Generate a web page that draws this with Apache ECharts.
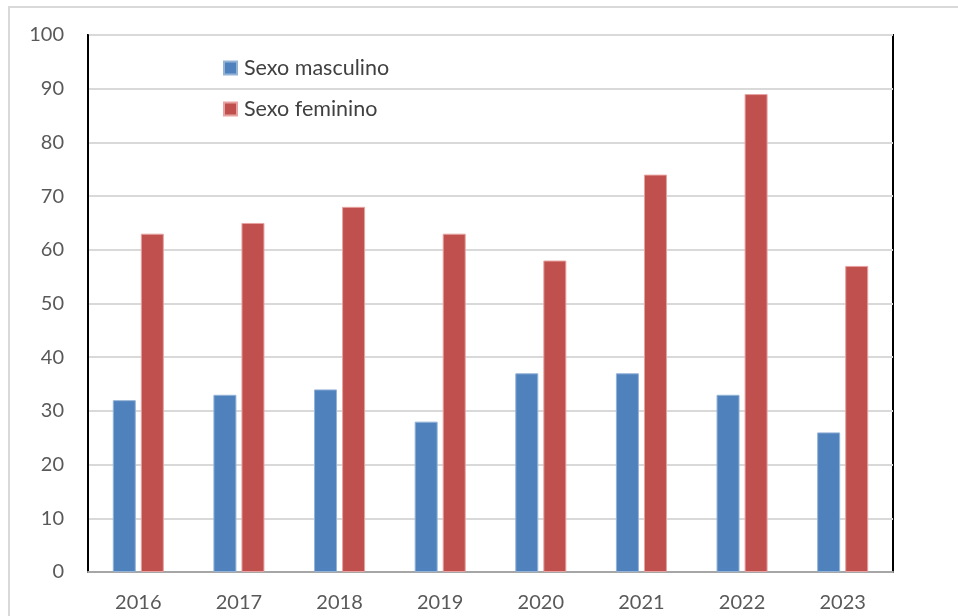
<!DOCTYPE html>
<html><head><meta charset="utf-8">
<script src="https://cdn.jsdelivr.net/npm/echarts@6/dist/echarts.min.js"></script>
<style>html,body{margin:0;padding:0;background:#fff}#c{width:958px;height:616px}</style>
</head><body><div id="c"></div>
<script>
const categories = ['2016','2017','2018','2019','2020','2021','2022','2023'];
const masculino = [32, 33, 34, 28, 37, 37, 33, 26];
const feminino = [63, 65, 68, 63, 58, 74, 89, 57];
const yTicks = [0,10,20,30,40,50,60,70,80,90,100];

const chart = echarts.init(document.getElementById('c'));
const font = 'Lato, "Open Sans", sans-serif';
chart.setOption({
  animation: false,
  textStyle: {fontFamily: font},
  graphic: [{type:'rect', shape:{x:9,y:7,width:1100,height:1100}, style:{fill:'none', stroke:'#d9d9d9', lineWidth:2}, z:-10}],
  grid: {left:88, right:65, top:35, bottom:44, show:true, borderColor:'#000', borderWidth:2, backgroundColor:'transparent'},
  legend: {orient:'vertical', left:218, top:52, itemWidth:13, itemHeight:13, itemGap:19,
    icon:'rect', textStyle:{fontSize:21.5, lineHeight:22, color:'#404040', fontFamily:font, padding:[0,0,0,2]}},
  xAxis: {type:'category', data:categories,
    axisLine:{lineStyle:{color:'#a6a6a6', width:2}}, axisTick:{show:false},
    axisLabel:{fontSize:20, color:'#595959', margin:21, fontFamily:font}},
  yAxis: {type:'value', min:yTicks[0], max:yTicks[yTicks.length-1], interval:10,
    axisLine:{show:true, lineStyle:{color:'#000', width:2}}, axisTick:{show:false},
    splitLine:{lineStyle:{color:'#d9d9d9', width:2}},
    axisLabel:{fontSize:20, color:'#595959', margin:24, fontFamily:font}},
  series: [
    {name:'Sexo masculino', type:'bar', data:masculino, barWidth:23, barGap:'22%',
      itemStyle:{color:'#4F81BD', borderColor:'#95b3d7', borderWidth:1}},
    {name:'Sexo feminino', type:'bar', data:feminino, barWidth:23,
      itemStyle:{color:'#C0504D', borderColor:'#e6a3a1', borderWidth:1}}
  ]
});
</script></body></html>
